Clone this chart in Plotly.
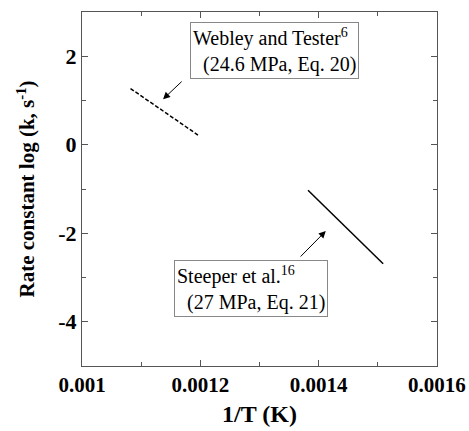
import plotly.graph_objects as go

# Data
webley_x = [0.001082, 0.001196]
webley_y = [1.27, 0.22]
steeper_x = [0.001382, 0.001509]
steeper_y = [-1.03, -2.69]

x_ticks = [0.001, 0.0012, 0.0014, 0.0016]
x_tick_labels = ["0.001", "0.0012", "0.0014", "0.0016"]
y_ticks = [-4, -2, 0, 2]
y_tick_labels = ["-4", "-2", "0", "2"]

label_texts = ["Webley and Tester<sup>6</sup><br>&nbsp;&nbsp;(24.6 MPa, Eq. 20)",
               "Steeper et al.<sup>16</sup><br>&nbsp;&nbsp;(27 MPa, Eq. 21)"]
label_x = [0.001326, 0.001285]
label_y = [2.13, -3.25]
arrow_head_x = [0.001137, 0.001412]
arrow_head_y = [1.03, -1.95]
arrow_tail_x = [0.001171, 0.001367]
arrow_tail_y = [1.46, -2.56]

serif = "Liberation Serif, Times New Roman, serif"

fig = go.Figure()
fig.add_trace(go.Scatter(x=webley_x, y=webley_y, mode="lines",
                         line=dict(color="black", width=1.5, dash="4px,2px"),
                         showlegend=False))
fig.add_trace(go.Scatter(x=steeper_x, y=steeper_y, mode="lines",
                         line=dict(color="black", width=1.5),
                         showlegend=False))

for t, x, y in zip(label_texts, label_x, label_y):
    fig.add_annotation(x=x, y=y, xref="x", yref="y", text=t, showarrow=False,
                       align="left", font=dict(family=serif, size=20, color="black"),
                       bordercolor="#888888", borderwidth=1, borderpad=2,
                       bgcolor="white")

for hx, hy, tx, ty in zip(arrow_head_x, arrow_head_y, arrow_tail_x, arrow_tail_y):
    fig.add_annotation(x=hx, y=hy, ax=tx, ay=ty, xref="x", yref="y",
                       axref="x", ayref="y", text="", showarrow=True,
                       arrowhead=2, arrowsize=1.4, arrowwidth=1, arrowcolor="black")

fig.update_layout(
    width=469, height=431,
    margin=dict(l=82, r=32, t=12, b=65),
    plot_bgcolor="white", paper_bgcolor="white",
    font=dict(family=serif, color="black"),
    xaxis=dict(range=[0.001, 0.00160001], tickvals=x_ticks, ticktext=x_tick_labels,
               automargin=False,
               ticks="inside", ticklen=6, tickwidth=1, tickcolor="#555",
               showline=True, linecolor="#555", linewidth=1, mirror="ticks",
               showgrid=False, zeroline=False,
               minor=dict(dtick=0.0001, ticks="inside", ticklen=4, tickcolor="#555"),
               tickfont=dict(family=serif, size=21, color="black", weight="bold"),
               title=dict(text="<b>1/T (K)</b>", font=dict(family=serif, size=24, color="black"),
                          standoff=8)),
    yaxis=dict(range=[-5, 3], tickvals=y_ticks, ticktext=y_tick_labels,
               automargin=False,
               ticks="inside", ticklen=6, tickwidth=1, tickcolor="#555",
               showline=True, linecolor="#555", linewidth=1, mirror="ticks",
               showgrid=False, zeroline=False,
               minor=dict(dtick=1, ticks="inside", ticklen=4, tickcolor="#555"),
               tickfont=dict(family=serif, size=22, color="black", weight="bold"),
               title=dict(text="<b>Rate constant log (k, s<sup>-1</sup>)</b>",
                          font=dict(family=serif, size=21, color="black"), standoff=17)),
)

# Remove the default 8px page margin so the figure fills the window exactly.
fig.write_html("out.html", config={"displayModeBar": False},
               post_script="document.body.style.margin='0';")
